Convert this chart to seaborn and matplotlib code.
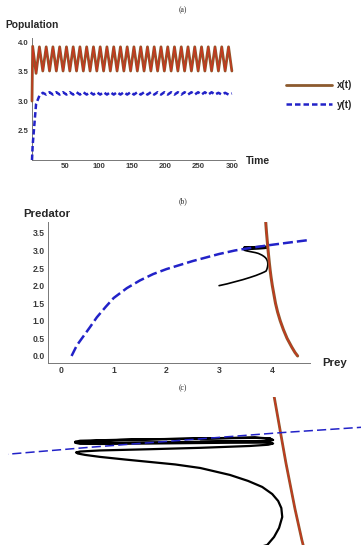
import numpy as np
import matplotlib
matplotlib.use("Agg")
import matplotlib.pyplot as plt
from matplotlib.ticker import FormatStrFormatter
import seaborn as sns

sns.set_style("white")
plt.rcParams['font.family'] = ['Liberation Sans', 'DejaVu Sans']

t_x = [0.0, 1.0, 6.1, 11.1, 16.2, 21.3, 26.3, 31.4, 36.5, 41.5, 46.6, 51.7, 56.7,
       61.8, 66.8, 71.9, 77.0, 82.0, 87.1, 92.2, 97.2, 102.3, 107.4, 112.4, 117.5,
       122.6, 127.6, 132.7, 137.8, 142.8, 147.9, 152.9, 158.0, 163.1, 168.1, 173.2,
       178.3, 183.3, 188.4, 193.5, 198.5, 203.6, 208.7, 213.7, 218.8, 223.9, 228.9,
       234.0, 239.1, 244.1, 249.2, 254.3, 259.3, 264.4, 269.4, 274.5, 279.6, 284.6,
       289.7, 294.8, 299.8]
x_vals = [3.00, 3.93, 3.47,
          3.92, 3.51, 3.92, 3.51, 3.92, 3.51, 3.92, 3.51, 3.92, 3.51,
          3.92, 3.51, 3.92, 3.51, 3.92, 3.51, 3.92, 3.51, 3.92, 3.51,
          3.92, 3.51, 3.92, 3.51, 3.92, 3.51, 3.92, 3.51, 3.92, 3.51,
          3.92, 3.51, 3.92, 3.51, 3.92, 3.51, 3.92, 3.51, 3.92, 3.51,
          3.92, 3.51, 3.92, 3.51, 3.92, 3.51, 3.92, 3.51, 3.92, 3.51,
          3.92, 3.51, 3.92, 3.51, 3.92, 3.51, 3.92, 3.51]
y_vals = [2.00, 2.25, 2.95, 3.09, 3.14,
          3.11, 3.15, 3.11, 3.15, 3.11, 3.15, 3.11, 3.15, 3.11, 3.15,
          3.11, 3.15, 3.11, 3.15, 3.11, 3.15, 3.11, 3.15, 3.11, 3.15,
          3.11, 3.15, 3.11, 3.15, 3.11, 3.15, 3.11, 3.15, 3.11, 3.15,
          3.11, 3.15, 3.11, 3.15, 3.11, 3.15, 3.11, 3.15, 3.11, 3.15,
          3.11, 3.15, 3.11, 3.15, 3.11, 3.15, 3.11, 3.15, 3.11, 3.15,
          3.11, 3.14, 3.11, 3.14, 3.11, 3.13]

# ---- (b)/(c) phase plane ----
prey_null_x = [4.49, 4.44, 4.38, 4.29, 4.22, 4.16, 4.11, 4.07, 4.04, 4.01,
               3.985, 3.968, 3.953, 3.933, 3.918, 3.90, 3.885]
prey_null_y = [0.0, 0.1, 0.25, 0.5, 0.75, 1.0, 1.25, 1.5, 1.75, 2.0,
               2.25, 2.45, 2.65, 2.95, 3.2, 3.5, 3.8]

pred_null_x = [0.2, 0.3, 0.42, 0.55, 0.68, 0.85, 1.0, 1.25, 1.5, 1.75, 2.0, 2.5,
               3.0, 3.3, 3.5, 3.92, 4.3, 4.72]
pred_null_y = [0.0, 0.3, 0.55, 0.82, 1.1, 1.4, 1.65, 1.93, 2.15, 2.33, 2.47, 2.70,
               2.90, 3.00, 3.05, 3.145, 3.22, 3.30]

traj_prey = [3.00, 3.15, 3.30, 3.45, 3.58, 3.70, 3.80, 3.86, 3.892,
             3.907, 3.918, 3.925, 3.923, 3.916, 3.903, 3.881, 3.850, 3.810,
             3.745, 3.690, 3.635, 3.580, 3.525, 3.492, 3.476, 3.472,
             3.481, 3.525, 3.635, 3.745, 3.854, 3.894, 3.905,
             3.894, 3.811, 3.635, 3.525, 3.481, 3.470,
             3.481, 3.569, 3.745, 3.865, 3.898, 3.905,
             3.890, 3.789, 3.635, 3.525, 3.481, 3.470,
             3.481, 3.591, 3.745, 3.865, 3.898, 3.903,
             3.881, 3.745]
traj_pred = [2.00, 2.05, 2.11, 2.17, 2.23, 2.29, 2.35, 2.39, 2.416,
             2.468, 2.527, 2.598, 2.656, 2.702, 2.747, 2.793, 2.832, 2.871,
             2.916, 2.939, 2.955, 2.971, 2.988, 3.001, 3.010, 3.017,
             3.023, 3.030, 3.038, 3.047, 3.059, 3.067, 3.075,
             3.081, 3.080, 3.075, 3.072, 3.073, 3.080,
             3.088, 3.098, 3.108, 3.114, 3.108, 3.098,
             3.090, 3.088, 3.083, 3.080, 3.081, 3.086,
             3.093, 3.101, 3.107, 3.112, 3.107, 3.097,
             3.089, 3.086]

BROWN = '#8c5a2e'
RED = '#c8361e'
BLUE = '#2222c8'
GREY = '#777777'
W, H = 361, 550


def math_axes(ax, lab_size):
    # Mathematica-like axes: only left/bottom, inward ticks
    sns.despine(ax=ax)
    for s in ['left', 'bottom']:
        ax.spines[s].set_color(GREY)
        ax.spines[s].set_linewidth(0.7)
    ax.tick_params(which='both', direction='in', color=GREY, width=0.6,
                   labelsize=lab_size, labelcolor='#3a3a3a', pad=2.5)
    ax.tick_params(which='major', length=3.5)
    ax.tick_params(which='minor', length=2)
    plt.setp(ax.get_xticklabels() + ax.get_yticklabels(), fontweight='bold')


fig = plt.figure(figsize=(W / 100, H / 100), dpi=100)

# (a)
ax1 = fig.add_axes([32 / W, 1 - 160 / H, 203 / W, 122 / H])
sns.lineplot(x=t_x, y=x_vals, color=BROWN, linewidth=2.0, sort=False, estimator=None,
             label='x(t)', ax=ax1, clip_on=False, zorder=3)
sns.lineplot(x=t_x, y=x_vals, color=RED, linewidth=0.9, sort=False, estimator=None,
             ax=ax1, clip_on=False, zorder=3)
sns.lineplot(x=t_x, y=y_vals, color=BLUE, linewidth=1.8, linestyle=(0, (2.2, 1.2)),
             sort=False, estimator=None, label='y(t)', ax=ax1, clip_on=False, zorder=3)
ax1.set_xlim(0, 304.5)
ax1.set_ylim(2.0, 4.07)
ax1.set_xticks([50, 100, 150, 200, 250, 300])
ax1.set_xticks(np.arange(10, 301, 10), minor=True)
ax1.set_yticks([2.5, 3.0, 3.5, 4.0])
ax1.set_yticks(np.arange(2.1, 4.05, 0.1), minor=True)
ax1.yaxis.set_major_formatter(FormatStrFormatter('%.1f'))
math_axes(ax1, 5.6)
handles, labels = ax1.get_legend_handles_labels()
if ax1.get_legend() is not None:
    ax1.get_legend().remove()
fig.legend(handles, labels, loc='upper left', bbox_to_anchor=(286 / W, 1 - 80 / H),
           frameon=False, prop={'weight': 'bold', 'size': 7}, handlelength=4.7,
           handletextpad=0.5, labelspacing=1.0, borderpad=0, borderaxespad=0)

# (b)
ax2 = fig.add_axes([48 / W, 1 - 363 / H, 262 / W, 141 / H])
sns.lineplot(x=traj_prey, y=traj_pred, color='black', linewidth=1.2, sort=False,
             estimator=None, ax=ax2)
sns.lineplot(x=prey_null_x, y=prey_null_y, color=BROWN, linewidth=2.2, sort=False,
             estimator=None, ax=ax2)
sns.lineplot(x=prey_null_x, y=prey_null_y, color=RED, linewidth=1.0, sort=False,
             estimator=None, ax=ax2)
sns.lineplot(x=pred_null_x, y=pred_null_y, color=BLUE, linewidth=1.8,
             linestyle=(0, (4, 1.6)), sort=False, estimator=None, ax=ax2)
ax2.set_xlim(-0.247, 4.725)
ax2.set_ylim(-0.2, 3.81)
ax2.set_xticks([0, 1, 2, 3, 4])
ax2.set_xticks(np.arange(-0.2, 4.7, 0.2), minor=True)
ax2.set_yticks(np.arange(0, 3.51, 0.5))
ax2.set_yticks(np.arange(-0.1, 3.81, 0.1), minor=True)
ax2.yaxis.set_major_formatter(FormatStrFormatter('%.1f'))
math_axes(ax2, 6.2)

# (c) zoom of the limit cycle, no axes
ax3 = fig.add_axes([8 / W, 1 - 545 / H, 353 / W, 148 / H])
sns.lineplot(x=traj_prey, y=traj_pred, color='black', linewidth=1.6, sort=False,
             estimator=None, ax=ax3)
sns.lineplot(x=prey_null_x, y=prey_null_y, color=BROWN, linewidth=2.0, sort=False,
             estimator=None, ax=ax3)
sns.lineplot(x=prey_null_x, y=prey_null_y, color=RED, linewidth=1.0, sort=False,
             estimator=None, ax=ax3)
sns.lineplot(x=pred_null_x, y=pred_null_y, color=BLUE, linewidth=1.1,
             linestyle=(0, (6, 2.7)), sort=False, estimator=None, ax=ax3)
ax3.set_xlim(3.3226, 4.098)
ax3.set_ylim(2.416, 3.377)
ax3.axis('off')

# labels and panel titles
fig.text(5 / W, 1 - 25 / H, 'Population', fontsize=7.4, fontweight='bold', va='center')
fig.text(246 / W, 1 - 161 / H, 'Time', fontsize=7.4, fontweight='bold', va='center')
fig.text(23 / W, 1 - 214 / H, 'Predator', fontsize=8.2, fontweight='bold', va='center')
fig.text(322 / W, 1 - 363 / H, 'Prey', fontsize=8.2, fontweight='bold', va='center')
for lab, yy in [('(a)', 10), ('(b)', 201), ('(c)', 388)]:
    fig.text(183 / W, 1 - yy / H, lab, family='Liberation Serif', fontsize=5.5,
             ha='center', va='center')

fig.savefig('out.png', dpi=100)
